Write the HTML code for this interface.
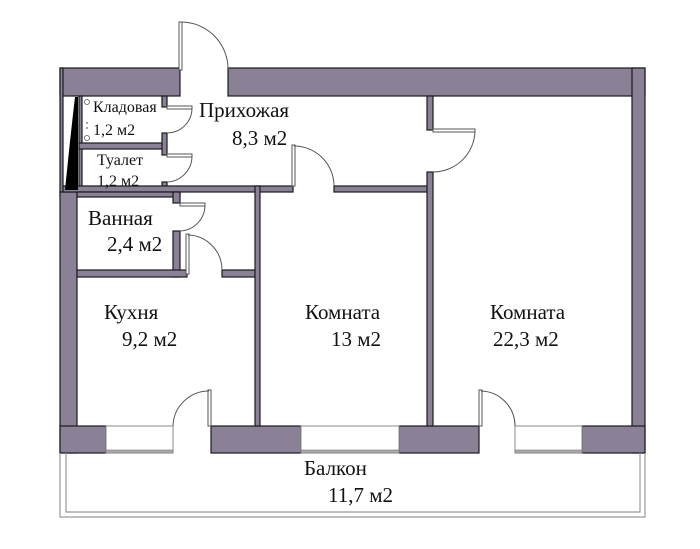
<!DOCTYPE html>
<html><head><meta charset="utf-8"><style>
html,body{margin:0;padding:0;background:#fff;}
svg{display:block;}
</style></head><body>
<svg width="700" height="549" viewBox="0 0 700 549" xmlns="http://www.w3.org/2000/svg">
<g fill="#8b8197" stroke="#1a1a1a" stroke-width="1.2">
  <rect x="60" y="68" width="120" height="28"/>
  <rect x="228" y="68" width="417" height="28"/>
  <rect x="60" y="68" width="3" height="128"/>
  <rect x="60" y="192" width="17" height="261"/>
  <rect x="632" y="68" width="13" height="385"/>
  <rect x="60" y="426" width="46" height="27"/>
  <rect x="211" y="426" width="90" height="27"/>
  <rect x="399" y="426" width="80" height="27"/>
  <rect x="582" y="426" width="63" height="27"/>
  <rect x="79" y="96" width="3" height="96"/>
  <rect x="79" y="143" width="84" height="6"/>
  <rect x="162" y="96" width="5" height="11"/>
  <rect x="162" y="133" width="5" height="22"/>
  <rect x="162" y="182" width="5" height="10"/>
  <rect x="63" y="186" width="230" height="6"/>
  <rect x="334" y="186" width="96" height="6"/>
  <rect x="77" y="192" width="103" height="5"/>
  <rect x="173" y="192" width="7" height="11"/>
  <rect x="173" y="231" width="7" height="46"/>
  <rect x="77" y="270" width="110" height="7"/>
  <rect x="222" y="270" width="35" height="7"/>
  <rect x="255" y="186" width="5" height="240"/>
  <rect x="427" y="96" width="6" height="34"/>
  <rect x="427" y="172" width="6" height="254"/>
</g>
<path d="M75,97 L78,97 L78,190 L65,190 Q70,140 75,97 Z" fill="#000"/>
<circle cx="87" cy="102" r="2.5" fill="#fff" stroke="#555" stroke-width="0.8"/>
<circle cx="87" cy="138" r="2.5" fill="#fff" stroke="#555" stroke-width="0.8"/>
<circle cx="87" cy="123" r="1" fill="#888"/><circle cx="87" cy="128" r="1" fill="#888"/>
<g fill="#fff" stroke="#888" stroke-width="1">
  <rect x="106" y="426" width="67" height="27"/>
  <rect x="301" y="426" width="98" height="27"/>
  <rect x="515" y="426" width="67" height="27"/>
</g>
<g fill="#aaa" stroke="#777" stroke-width="0.6">
  <rect x="106" y="450" width="67" height="3"/>
  <rect x="301" y="450" width="98" height="3"/>
  <rect x="515" y="450" width="67" height="3"/>
</g>
<path d="M60,453 V517 H645 V453" fill="none" stroke="#999" stroke-width="1.2"/>
<path d="M66,453 V512 H640 V453" fill="none" stroke="#999" stroke-width="1.2"/>
<g fill="none" stroke="#555" stroke-width="1">
  <rect x="179" y="22" width="3" height="48" fill="#fff"/>
  <path d="M181,22 A47,47 0 0 1 228,69"/>
  <rect x="167" y="106" width="25" height="3" fill="#fff"/>
  <path d="M192,108 A25,25 0 0 1 167,133"/>
  <rect x="167" y="154" width="25" height="3" fill="#fff"/>
  <path d="M192,156 A26,26 0 0 1 167,182"/>
  <rect x="180" y="203" width="25" height="3" fill="#fff"/>
  <path d="M205,205 A26,26 0 0 1 180,231"/>
  <rect x="186" y="234" width="3" height="40" fill="#fff"/>
  <path d="M188,235 A35,35 0 0 1 222,270"/>
  <rect x="292" y="145" width="3" height="41" fill="#fff"/>
  <path d="M294,146 A40,40 0 0 1 334,186"/>
  <rect x="433" y="129" width="42" height="3" fill="#fff"/>
  <path d="M475,131 A42,42 0 0 1 433,172"/>
  <rect x="208" y="390" width="3" height="36" fill="#fff"/>
  <path d="M209,391 A36,36 0 0 0 173,426"/>
  <rect x="479" y="390" width="3" height="36" fill="#fff"/>
  <path d="M481,391 A35,35 0 0 1 515,426"/>
</g>
<g font-family="Liberation Serif, DejaVu Serif, serif" fill="#111">
<text x="199" y="117" font-size="21">Прихожая</text>
<text x="232" y="145" font-size="21">8,3 м2</text>
<text x="93" y="112" font-size="16">Кладовая</text>
<text x="93" y="135" font-size="16">1,2 м2</text>
<text x="97" y="165" font-size="16">Туалет</text>
<text x="97" y="186" font-size="16">1,2 м2</text>
<text x="88" y="225" font-size="21">Ванная</text>
<text x="107" y="251" font-size="21">2,4 м2</text>
<text x="104" y="319" font-size="21">Кухня</text>
<text x="122" y="346" font-size="21">9,2 м2</text>
<text x="305" y="319" font-size="21">Комната</text>
<text x="331" y="346" font-size="21">13 м2</text>
<text x="490" y="319" font-size="21">Комната</text>
<text x="493" y="346" font-size="21">22,3 м2</text>
<text x="304" y="475" font-size="21">Балкон</text>
<text x="328" y="502" font-size="21">11,7 м2</text>
</g>
</svg>
</body></html>
